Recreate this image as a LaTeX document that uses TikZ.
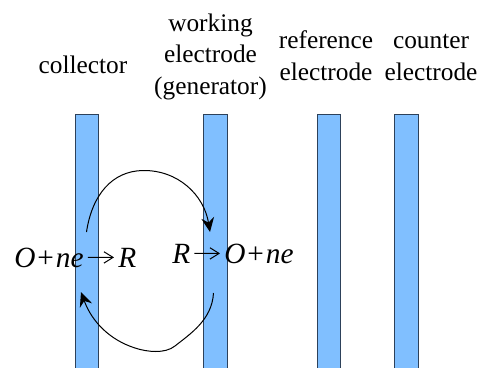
\documentclass[tikz,border=0pt]{standalone}
\usepackage{fontspec}
\setmainfont{Liberation Serif}
\usepackage{xcolor}
\usetikzlibrary{arrows.meta,positioning,calc}
\definecolor{barblue}{RGB}{128,191,255}
\definecolor{baredge}{RGB}{45,65,90}

\begin{document}
\begin{tikzpicture}[x=0.75pt, y=-0.75pt,
    bar/.style={rectangle, draw=baredge, line width=0.7pt, fill=barblue, inner sep=0pt,
        minimum width=17.6pt, minimum height=195pt, anchor=north},
    lab/.style={font=\fontsize{19}{23.5}\selectfont, align=center, anchor=base, inner sep=0pt},
    eqn/.style={font=\fontsize{22}{26}\selectfont\itshape, inner sep=0pt, anchor=base west},
    arr/.style={-{Straight Barb[length=2.4mm, width=3mm]}, line width=0.75pt,
        shorten <=3pt, shorten >=3pt},
    loop/.style={-{Stealth[length=3.8mm, width=3.4mm, inset=1.3mm]}, line width=0.75pt}
]
    \useasboundingbox (0,0) rectangle (480,368);
    \clip (0,0) rectangle (480,368);

    % Electrodes
    \node[bar] (collector) at (86.8,114) {};
    \node[bar] (working) at (215.3,114) {};
    \node[bar] (reference) at (329,114) {};
    \node[bar] (counter) at (406.3,114) {};

    % Labels
    \node[lab] (collab) at (83,73) {collector};
    \node[lab] (worklab) at (210.5,94) {working\\electrode\\(generator)};
    \node[lab] (reflab) at (326,80) {reference\\electrode};
    \node[lab] (countlab) at (431,80) {counter\\electrode};

    % Reactions
    \node[eqn] (reactleft) at (14,267) {O\kern1.5pt{\upshape+}\kern1.5pt ne};
    \node[eqn] (prodleft) at (118,267) {R};
    \node[eqn] (reactright) at (172,263) {R};
    \node[eqn] (prodright) at (224,263) {O\kern1.5pt{\upshape+}\kern1.5pt ne};
    \draw[arr] (reactleft.east) -- (prodleft.west);
    \draw[arr] (reactright.east) -- (prodright.west);

    % Cycle
    \coordinate (topstart) at (86.5,232);
    \coordinate (topend) at (210,232);
    \coordinate (botstart) at (213.5,293);
    \coordinate (botend) at (81,292);
    \draw[loop] (topstart) .. controls (92,195) and (112,171) .. (143,170.5)
        .. controls (178,170) and (204,195) .. (topend);
    \draw[loop] (botstart) .. controls (212,320) and (190,334) .. (175,346)
        .. controls (165,354) and (147,352) .. (135,348)
        .. controls (110,340) and (92,322) .. (botend);
\end{tikzpicture}
\end{document}
